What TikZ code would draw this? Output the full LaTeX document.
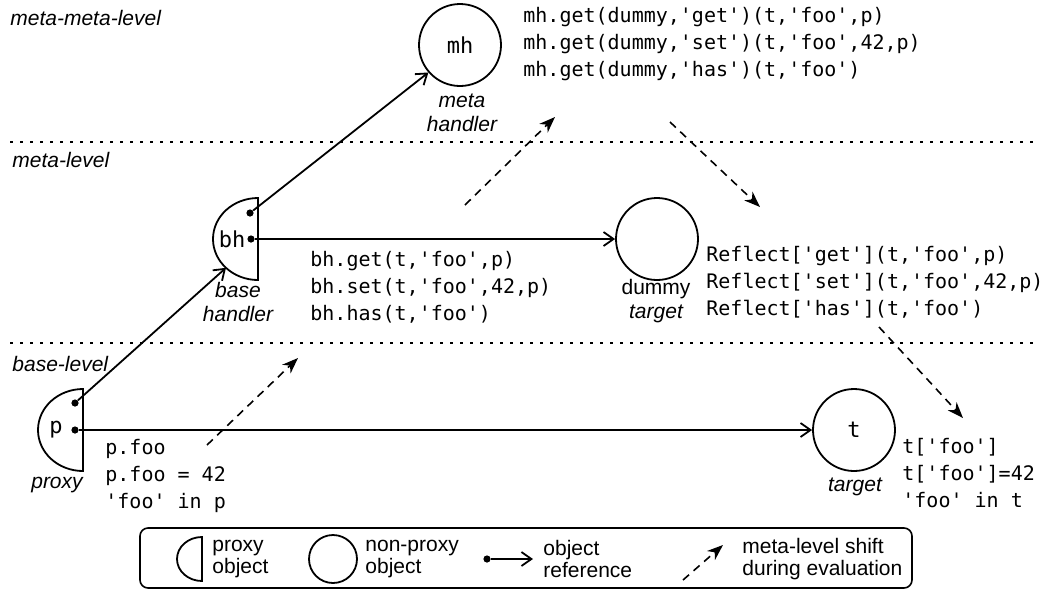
\documentclass[tikz,border=0pt]{standalone}
\usepackage{fontspec}
\setmainfont{Liberation Sans}
\setmonofont{DejaVu Sans Mono}
\usetikzlibrary{arrows.meta,shapes.geometric}
\tikzset{
  obj/.style={circle,draw,line width=0.9pt,minimum size=41pt,inner sep=0pt,font=\ttfamily\fontsize{11}{13}\selectfont},
  proxyobj/.style={ellipse,minimum width=45pt,minimum height=41pt,inner sep=0pt,outer sep=0pt},
  halfdisk/.style={line width=0.9pt},
  objname/.style={inner sep=0pt,font=\ttfamily\fontsize{11}{13}\selectfont},
  refdot/.style={circle,fill,inner sep=0pt,minimum size=3.6pt},
  objref/.style={line width=0.9pt,-{Straight Barb[length=5pt,width=7pt]}},
  levelshift/.style={line width=0.8pt,dash pattern=on 4pt off 3pt,-{Stealth[length=8pt,width=6pt,inset=2.5pt]}},
  levelline/.style={line width=0.8pt,dash pattern=on 1.5pt off 3.5pt},
  lvl/.style={anchor=west,inner sep=0pt,font=\itshape\fontsize{10.5}{12}\selectfont},
  objlabel/.style={align=center,inner sep=0pt,font=\itshape\fontsize{10.5}{12}\selectfont},
  code/.style={anchor=west,align=left,inner sep=0pt,font=\ttfamily\fontsize{10}{13.5}\selectfont},
  legtext/.style={anchor=west,align=left,inner sep=0pt,font=\fontsize{10.5}{11}\selectfont}
}
\begin{document}
\begin{tikzpicture}[x=0.5pt,y=-0.5pt]
\useasboundingbox (0,0) rectangle (1056,591);
% levels
\node[lvl] (mmlevel) at (10,18) {meta-meta-level};
\node[lvl] (mlevel) at (12,160) {meta-level};
\node[lvl] (blevel) at (12,364) {base-level};
\coordinate (sepAl) at (10,142);
\coordinate (sepAr) at (1040,142);
\coordinate (sepBl) at (10,343);
\coordinate (sepBr) at (1040,343);
\draw[levelline] (sepAl) -- (sepAr);
\draw[levelline] (sepBl) -- (sepBr);
% objects
\node[obj] (mh) at (460,45) {mh};
\node[obj] (dummy) at (657,239) {};
\node[obj] (t) at (854,430) {t};
\node[proxyobj] (bh) at (258,239) {};
\node[proxyobj] (p) at (83,430) {};
\draw[halfdisk] (bh.north) arc[start angle=90,end angle=270,x radius=22.5pt,y radius=20.5pt] -- cycle;
\draw[halfdisk] (p.north) arc[start angle=90,end angle=270,x radius=22.5pt,y radius=20.5pt] -- cycle;
\node[objname] (bhname) at (232,239) {bh};
\node[objname] (pname) at (56,430) {p};
\node[refdot] (bhup) at (250,213) {};
\node[refdot] (bhmid) at (251,239) {};
\node[refdot] (pup) at (75,403) {};
\node[refdot] (pmid) at (75,430) {};
\node[objlabel] (mhlabel) at (462,113) {meta\\handler};
\node[objlabel] (bhlabel) at (238,302) {base\\handler};
\node[objlabel,font=\fontsize{10.5}{12}\selectfont] (dummylabel) at (656,289) {dummy};
\node[objlabel] (dtlabel) at (656,314) {target};
\node[objlabel] (plabel) at (57,485) {proxy};
\node[objlabel] (tlabel) at (855,487) {target};
% references
\draw[objref] (pup) -- (bh.222);
\draw[objref] (pmid) -- (t.west);
\draw[objref] (bhup) -- (mh.221);
\draw[objref] (bhmid) -- (dummy.west);
% code
\node[code] (mhcode) at (523,44) {mh.get(dummy,'get')(t,'foo',p)\\mh.get(dummy,'set')(t,'foo',42,p)\\mh.get(dummy,'has')(t,'foo')};
\node[code] (bhcode) at (310,287) {bh.get(t,'foo',p)\\bh.set(t,'foo',42,p)\\bh.has(t,'foo')};
\node[code] (rcode) at (706,282) {Reflect['get'](t,'foo',p)\\Reflect['set'](t,'foo',42,p)\\Reflect['has'](t,'foo')};
\node[code] (pcode) at (105,476) {p.foo\\p.foo = 42\\'foo' in p};
\node[code] (tcode) at (902,473) {t['foo']\\t['foo']=42\\'foo' in t};
% meta-level shifts
\coordinate (shAa) at (207,445);
\coordinate (shAb) at (298,358);
\coordinate (shBa) at (465,205);
\coordinate (shBb) at (555,117);
\coordinate (shCa) at (670,122);
\coordinate (shCb) at (760,207);
\coordinate (shDa) at (879,327);
\coordinate (shDb) at (963,418);
\draw[levelshift] (shAa) -- (shAb);
\draw[levelshift] (shBa) -- (shBb);
\draw[levelshift] (shCa) -- (shCb);
\draw[levelshift] (shDa) -- (shDb);
% legend
\node[draw,line width=0.8pt,rounded corners=4pt,minimum width=386pt,minimum height=30pt] (legend) at (526,558) {};
\node[proxyobj,minimum width=25pt,minimum height=22pt] (legproxy) at (202,559) {};
\draw[halfdisk] (legproxy.north) arc[start angle=90,end angle=270,x radius=12.5pt,y radius=11pt] -- cycle;
\node[legtext] (legproxytext) at (212,559) {proxy\\object};
\node[obj,minimum size=24pt] (legobj) at (333,559) {};
\node[legtext] (legobjtext) at (365,559) {non-proxy\\object};
\node[refdot] (legdot) at (487,559) {};
\coordinate (legtip) at (533,559);
\draw[objref] (legdot) -- (legtip);
\node[legtext] (legreftext) at (543,559) {object\\reference};
\coordinate (legshifta) at (683,580);
\coordinate (legshiftb) at (723,545);
\draw[levelshift] (legshifta) -- (legshiftb);
\node[legtext] (legshifttext) at (742,559) {meta-level shift\\during evaluation};
\end{tikzpicture}
\end{document}
